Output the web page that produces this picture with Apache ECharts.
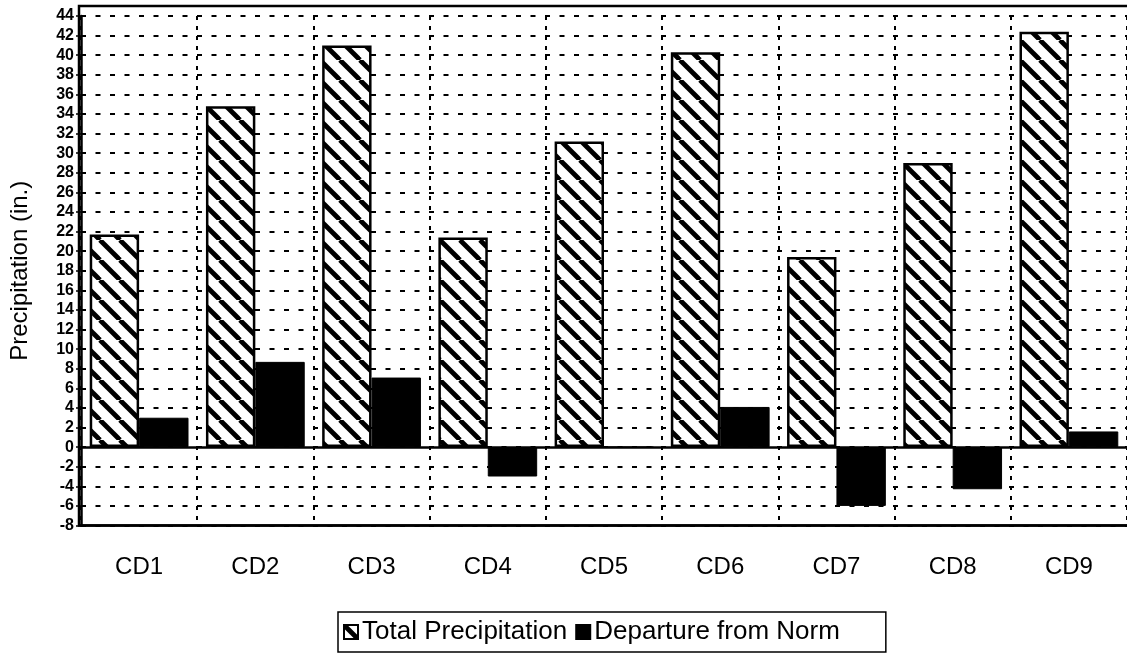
<!DOCTYPE html>
<html>
<head>
<meta charset="utf-8">
<script src="https://cdn.jsdelivr.net/npm/echarts@6/dist/echarts.min.js"></script>
<style>html,body{margin:0;padding:0;background:#fff}#c{width:1127px;height:654px}</style>
</head>
<body>
<div id="c"></div>
<script>
var categories = ['CD1','CD2','CD3','CD4','CD5','CD6','CD7','CD8','CD9'];
var totalPrecip = [21.7, 34.8, 41.0, 21.4, 31.2, 40.3, 19.4, 29.0, 42.4];
var departure = [3.0, 8.7, 7.1, -3.0, 0, 4.1, -6.0, -4.3, 1.6];
var yTicks = {min: -8, max: 44, interval: 2};

function hatch() {
  var s = 20, cv = document.createElement('canvas');
  cv.width = s; cv.height = s;
  var g = cv.getContext('2d');
  g.fillStyle = '#fff'; g.fillRect(0,0,s,s);
  g.strokeStyle = '#000'; g.lineWidth = 4.8;
  for (var k = -1; k <= 1; k++) {
    g.beginPath(); g.moveTo(k*s, 0); g.lineTo(k*s + s, s); g.stroke();
  }
  return cv;
}
var hatchPat = {image: hatch(), repeat: 'repeat'};

var chart = echarts.init(document.getElementById('c'));
var font = 'Arial, "Liberation Sans", sans-serif';
chart.setOption({
  animation: false,
  backgroundColor: '#fff',
  grid: {left: 79, top: 16, width: 1057, height: 509.5, containLabel: false},
  graphic: [{
    type: 'rect', z: 100, silent: true,
    shape: {x: 79, y: 6, width: 1057, height: 519.5},
    style: {fill: 'none', stroke: '#000', lineWidth: 2.5}
  }],
  legend: {
    bottom: 2, left: 338,
    data: ['Total Precipitation', 'Departure from Norm'],
    icon: 'rect', itemWidth: 14, itemHeight: 14, itemGap: 8,
    borderColor: '#000', borderWidth: 1.5, padding: [7, 46, 7, 5],
    textStyle: {fontFamily: font, fontSize: 26, color: '#000', padding: [0,0,0,-1]}
  },
  xAxis: [{
    type: 'category', data: categories, boundaryGap: true,
    axisLine: {onZero: false, lineStyle: {color: '#000', width: 2.5}},
    axisTick: {show: false},
    axisLabel: {color: '#000', fontFamily: font, fontSize: 24, margin: 30},
    splitLine: {show: true, lineStyle: {color: '#000', width: 2, type: [4, 6]}}
  }],
  yAxis: [{
    type: 'value', min: yTicks.min, max: yTicks.max, interval: yTicks.interval,
    name: 'Precipitation (in.)', nameLocation: 'middle', nameGap: 49,
    nameTextStyle: {fontFamily: font, fontSize: 24, color: '#000'},
    axisLine: {show: true, lineStyle: {color: '#000', width: 2.5}},
    axisTick: {show: true, length: 5, lineStyle: {color: '#000', width: 1.5}},
    axisLabel: {color: '#000', fontFamily: font, fontSize: 16, fontWeight: 'bold', margin: 7},
    splitLine: {show: true, lineStyle: {color: '#000', width: 2.2, type: [5, 9.5]}}
  }, {
    type: 'value', min: yTicks.min, max: yTicks.max, interval: yTicks.interval,
    position: 'left',
    axisLine: {show: false},
    axisTick: {show: true, inside: true, length: 5, lineStyle: {color: '#000', width: 1.5}},
    axisLabel: {show: false},
    splitLine: {show: false}
  }],
  series: [{
    name: 'Total Precipitation', type: 'bar', data: totalPrecip,
    barGap: '0%', barCategoryGap: '15%',
    itemStyle: {color: hatchPat, borderColor: '#000', borderWidth: 2.5},
    markLine: {
      silent: true, symbol: 'none', label: {show: false},
      lineStyle: {color: '#000', width: 2.5, type: 'solid'},
      data: [{yAxis: 0}]
    }
  }, {
    name: 'Departure from Norm', type: 'bar', data: departure,
    itemStyle: {color: '#000', borderColor: '#000', borderWidth: 1}
  }]
});
</script>
</body>
</html>
